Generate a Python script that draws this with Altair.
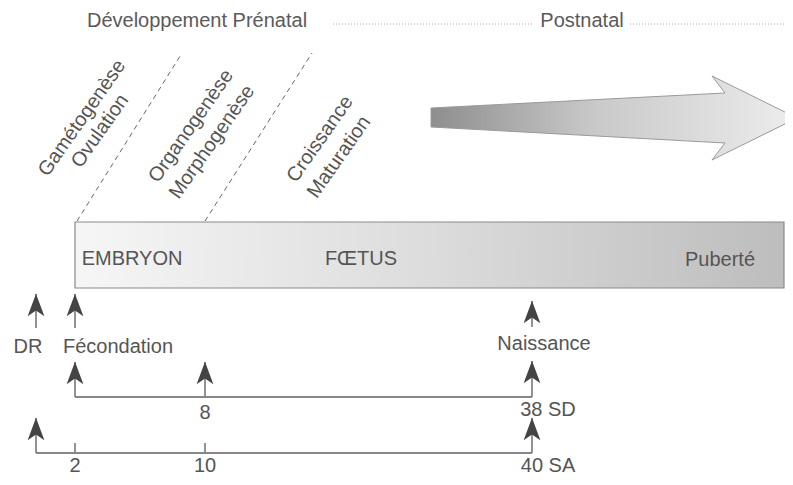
import altair as alt
import pandas as pd

FONT = "Liberation Sans"

# ---------------- data (schematic diagram coordinates, reference pixels) ----------------
# header labels
header_labels = ["Développement Prénatal", "Postnatal"]
header_x = [197, 582]
header_y = [21, 21]
# dotted guide segments of the header
dotted_x1 = [333, 630]
dotted_x2 = [532, 787]
dotted_y = [24, 24]

# big gradient arrow outline (closed polygon, in drawing order)
arrow_x = [431, 725, 712, 797, 712, 725, 431, 431]
arrow_y = [108, 93, 76, 118, 160, 143, 127, 108]

# development box
box_x1, box_x2 = [75], [784]
box_y1, box_y2 = [222], [288]
box_labels = ["EMBRYON", "FŒTUS", "Puberté"]
box_label_x = [132, 361, 720]
box_label_y = [259, 259, 260]

# dashed diagonal separators
diag_x1 = [77, 205]
diag_y1 = [221, 221]
diag_x2 = [182, 312]
diag_y2 = [53, 53]

# rotated process labels
proc_labels = ["Gamétogenèse", "Ovulation", "Organogenèse", "Morphogenèse", "Croissance", "Maturation"]
proc_x = [82, 100, 191, 212, 320, 339]
proc_y = [118, 131, 126, 142, 139, 157]

# events
event_labels = ["DR", "Fécondation", "Naissance"]
event_x = [28, 118, 544]
event_y = [347, 347, 344]

# arrows: x, head tip y, shaft end y
arrows_x = [36, 75, 532, 75, 205, 532, 36, 532]
arrows_tip = [294, 294, 301, 362, 362, 361, 418, 418]
arrows_end = [328, 328, 327, 397, 397, 397, 453, 453]

# horizontal timelines (SD and SA)
time_x1 = [75, 36]
time_x2 = [532, 532]
time_y = [397, 453]
# small ticks on SA line
tick_x = [75, 205]
tick_y1 = [443, 443]
tick_y2 = [453, 453]

# week labels
week_labels = ["8", "38 SD", "2", "10", "40 SA"]
week_x = [205, 548, 75, 205, 548]
week_y = [413, 410, 466, 466, 466]

# ---------------- scales ----------------
W, H = 777, 469
xs = alt.Scale(domain=[8, 8 + W], range=[0, W], zero=False, nice=False)
ys = alt.Scale(domain=[8, 8 + H], range=[0, H], zero=False, nice=False)


def X(f):
    return alt.X(f, type="quantitative", scale=xs, axis=None)


def Y(f):
    return alt.Y(f, type="quantitative", scale=ys, axis=None)


# ---------------- layers ----------------
arrow_df = pd.DataFrame({"x": arrow_x, "y": arrow_y, "i": list(range(len(arrow_x)))})
arrow = alt.Chart(arrow_df).mark_line(
    fill=alt.Gradient(
        gradient="linear",
        stops=[alt.GradientStop(color="#8e8e8e", offset=0),
               alt.GradientStop(color="#c9c9c9", offset=0.45),
               alt.GradientStop(color="#ededed", offset=1)],
        x1=0, x2=1, y1=0, y2=0),
    stroke="#9a9a9a", strokeWidth=1
).encode(x=X("x"), y=Y("y"), order=alt.Order("i:Q"))

box_df = pd.DataFrame({"x1": box_x1, "x2": box_x2, "y1": box_y1, "y2": box_y2})
box = alt.Chart(box_df).mark_rect(
    color=alt.Gradient(
        gradient="linear",
        stops=[alt.GradientStop(color="#f6f6f6", offset=0),
               alt.GradientStop(color="#dcdcdc", offset=0.5),
               alt.GradientStop(color="#bdbdbd", offset=1)],
        x1=0, x2=1, y1=0, y2=0),
    stroke="#8a8a8a", strokeWidth=1.2
).encode(x=X("x1"), x2="x2", y=Y("y1"), y2="y2")

diag_df = pd.DataFrame({"x1": diag_x1, "y1": diag_y1, "x2": diag_x2, "y2": diag_y2})
diag = alt.Chart(diag_df).mark_rule(color="#666", strokeWidth=1, strokeDash=[5, 4]).encode(
    x=X("x1"), y=Y("y1"), x2="x2", y2="y2")

dot_df = pd.DataFrame({"x1": dotted_x1, "x2": dotted_x2, "y": dotted_y})
dots = alt.Chart(dot_df).mark_rule(color="#aaaaaa", strokeWidth=1, strokeDash=[1, 2]).encode(
    x=X("x1"), x2="x2", y=Y("y"))

head_df = pd.DataFrame({"t": header_labels, "x": header_x, "y": header_y})
header = alt.Chart(head_df).mark_text(font=FONT, fontSize=20, color="#5a5a5a",
                                      align="center", baseline="middle").encode(
    x=X("x"), y=Y("y"), text="t:N")

boxlab_df = pd.DataFrame({"t": box_labels, "x": box_label_x, "y": box_label_y})
boxlab = alt.Chart(boxlab_df).mark_text(font=FONT, fontSize=20, color="#555",
                                        align="center", baseline="middle").encode(
    x=X("x"), y=Y("y"), text="t:N")

proc_df = pd.DataFrame({"t": proc_labels, "x": proc_x, "y": proc_y})
proc = alt.Chart(proc_df).mark_text(font=FONT, fontSize=20, color="#555", angle=305,
                                    align="center", baseline="middle").encode(
    x=X("x"), y=Y("y"), text="t:N")

ev_df = pd.DataFrame({"t": event_labels, "x": event_x, "y": event_y})
events = alt.Chart(ev_df).mark_text(font=FONT, fontSize=20, color="#555",
                                    align="center", baseline="middle").encode(
    x=X("x"), y=Y("y"), text="t:N")

wk_df = pd.DataFrame({"t": week_labels, "x": week_x, "y": week_y})
weeks = alt.Chart(wk_df).mark_text(font=FONT, fontSize=20, color="#555",
                                   align="center", baseline="middle").encode(
    x=X("x"), y=Y("y"), text="t:N")

shaft_df = pd.DataFrame({"x": arrows_x, "tip": arrows_tip, "end": arrows_end})
shafts = alt.Chart(shaft_df).mark_rule(color="#777", strokeWidth=1.6).encode(
    x=X("x"), y=Y("tip"), y2="end")

head_shape = "M0,-1 L0.75,1 L0,0.5 L-0.75,1 Z"
heads_df = pd.DataFrame({"x": arrows_x, "c": [t + 11 for t in arrows_tip]})
heads = alt.Chart(heads_df).mark_point(shape=head_shape, size=500, filled=True,
                                       color="#444", opacity=1, strokeWidth=0).encode(
    x=X("x"), y=Y("c"))

tl_df = pd.DataFrame({"x1": time_x1, "x2": time_x2, "y": time_y})
timelines = alt.Chart(tl_df).mark_rule(color="#888", strokeWidth=1.8).encode(
    x=X("x1"), x2="x2", y=Y("y"))

tick_df = pd.DataFrame({"x": tick_x, "y1": tick_y1, "y2": tick_y2})
ticks = alt.Chart(tick_df).mark_rule(color="#777", strokeWidth=1.6).encode(
    x=X("x"), y=Y("y1"), y2="y2")

chart = alt.layer(
    arrow, box, diag, dots, header, boxlab, proc, events, weeks,
    timelines, ticks, shafts, heads
).properties(
    width=W, height=H, autosize="none", padding=0
).configure_view(stroke=None)

chart.save("out.html", embed_options={"renderer": "svg", "actions": False})
